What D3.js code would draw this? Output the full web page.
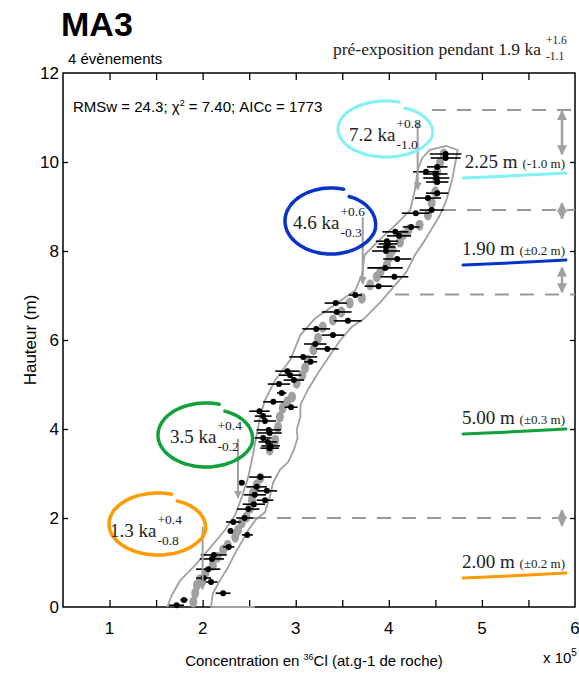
<!DOCTYPE html>
<html>
<head>
<meta charset="utf-8">
<script src="https://cdn.jsdelivr.net/npm/d3@7"></script>
<style>
  body { margin: 0; background: #fff; }
  svg { display: block; }
</style>
</head>
<body>
<div id="chart"></div>
<script>
// observed samples: concentration (x 10^5), height (m), half error bar
const obsX = [1.72, 1.80, 2.22, 2.09, 2.01, 2.06, 2.10, 2.12, 2.28, 2.48, 2.30, 2.33, 2.45, 2.49, 2.55, 2.67, 2.56, 2.69, 2.58, 2.42, 2.62,
  2.72, 2.73, 2.70, 2.65, 2.72, 2.71, 2.67, 2.65, 2.61, 2.95, 2.76, 2.85, 2.82, 2.98, 2.94, 2.91, 3.16, 3.08, 3.34, 3.21,
  3.40, 3.22, 3.56, 3.44, 3.43, 3.64, 3.89, 4.06, 3.96, 4.09, 3.97, 3.97, 3.99, 3.98, 4.11, 4.07,
  4.24, 4.29, 4.46, 4.42, 4.52, 4.52, 4.51, 4.50, 4.40, 4.52, 4.61, 4.61];
const obsY = [0.04, 0.16, 0.31, 0.56, 0.65, 0.85, 1.08, 1.17, 1.35, 1.62, 1.71, 1.91, 2.00, 2.20, 2.31, 2.40, 2.52, 2.61, 2.70, 2.79, 2.92,
  3.57, 3.62, 3.71, 3.80, 3.91, 3.98, 4.18, 4.29, 4.40, 4.49, 4.61, 4.81, 5.01, 5.10, 5.21, 5.30, 5.51, 5.62, 5.80, 5.91,
  6.11, 6.25, 6.43, 6.63, 6.83, 7.01, 7.21, 7.42, 7.62, 7.82, 8.00, 8.09, 8.16, 8.22, 8.34, 8.43,
  8.54, 8.85, 8.92, 9.19, 9.30, 9.55, 9.64, 9.73, 9.78, 9.89, 10.09, 10.18];
const obsErr = [0.08, 0.04, 0.08, 0.07, 0.08, 0.13, 0.13, 0.14, 0.06, 0.06, 0.03, 0.08, 0.09, 0.12, 0.12, 0.09, 0.12, 0.11, 0.11, 0.03, 0.12,
  0.10, 0.10, 0.10, 0.09, 0.13, 0.13, 0.12, 0.09, 0.11, 0.07, 0.11, 0.05, 0.12, 0.11, 0.12, 0.13, 0.07, 0.15, 0.12, 0.12,
  0.12, 0.15, 0.15, 0.16, 0.12, 0.07, 0.15, 0.15, 0.19, 0.15, 0.15, 0.10, 0.10, 0.12, 0.13, 0.14,
  0.09, 0.15, 0.13, 0.14, 0.12, 0.12, 0.14, 0.13, 0.14, 0.11, 0.16, 0.17];

// modelled concentrations (grey dots)
const modX = [1.90, 1.92, 1.94, 1.97, 2.03, 2.11, 2.16, 2.22, 2.27, 2.35, 2.38, 2.42, 2.47, 2.51, 2.53, 2.54, 2.58, 2.62,
  2.72, 2.78, 2.81, 2.83, 2.86, 2.91, 2.96, 3.01, 3.07, 3.10, 3.13, 3.19,
  3.24, 3.29, 3.40, 3.49, 3.58, 3.71, 3.80, 3.87, 3.91, 3.98, 4.01, 4.04, 4.12, 4.15, 4.21,
  4.33, 4.42, 4.46, 4.50, 4.51, 4.52, 4.55, 4.59];
const modY = [0.11, 0.31, 0.49, 0.61, 0.76, 0.94, 1.12, 1.28, 1.39, 1.57, 1.73, 1.89, 2.02, 2.22, 2.40, 2.56, 2.74, 2.90,
  3.53, 3.75, 4.04, 4.27, 4.47, 4.61, 4.72, 5.03, 5.21, 5.37, 5.55, 5.78,
  6.04, 6.29, 6.45, 6.63, 6.83, 6.94, 7.24, 7.42, 7.53, 7.69, 7.87, 8.02, 8.20, 8.36, 8.47,
  8.58, 8.81, 9.08, 9.33, 9.60, 9.78, 9.98, 10.18];

// envelope (left side up, then right side down)
const envX = [1.62, 1.67, 1.76, 1.92, 2.08, 2.24, 2.35, 2.42, 2.49, 2.54, 2.58, 2.62, 2.67, 2.78, 2.94, 3.05, 3.21, 3.42, 3.64, 3.71, 3.74, 3.90, 4.07, 4.23, 4.28, 4.31, 4.36, 4.44,
  4.62, 4.74, 4.72, 4.68, 4.62, 4.55, 4.39, 4.28, 4.19, 4.07, 3.91, 3.74, 3.60, 3.48, 3.35, 3.24, 3.13, 3.05, 3.05, 3.01, 3.02, 2.98, 2.92, 2.83, 2.76, 2.72, 2.67, 2.57, 2.49, 2.42, 2.35, 2.27, 2.19, 2.11, 2.09, 2.56];
const envY = [0.00, 0.27, 0.60, 0.94, 1.33, 1.73, 2.07, 2.47, 2.92, 3.42, 3.87, 4.31, 4.65, 5.10, 5.55, 6.11, 6.49, 6.79, 7.12, 7.46, 7.91, 8.25, 8.58, 8.92, 9.37, 9.82, 10.09, 10.27,
  10.36, 10.27, 10.04, 9.60, 9.15, 8.81, 8.25, 7.91, 7.53, 7.24, 6.85, 6.49, 6.29, 6.00, 5.60, 5.26, 4.88, 4.54, 4.27, 3.98, 3.80, 3.53, 3.26, 3.08, 2.81, 2.47, 2.13, 1.96, 1.73, 1.46, 1.21, 0.88, 0.61, 0.31, 0.00, 0.00];

// events (bottom to top)
const eventSlip = ["2.00 m", "5.00 m", "1.90 m", "2.25 m"];
const eventUnc = ["(±0.2 m)", "(±0.3 m)", "(±0.2 m)", "(-1.0 m)"];
const eventTop = [2.0, 7.02, 8.92, 11.17];
const uncTop = [2.2, 7.65, 9.1, 11.17];
const uncBot = [1.8, 7.05, 8.7, 10.15];
const eventAge = ["1.3 ka", "3.5 ka", "4.6 ka", "7.2 ka"];
const agePlus = ["+0.4", "+0.4", "+0.6", "+0.8"];
const ageMinus = ["-0.8", "-0.2", "-0.3", "-1.0"];
const arrowX = [2.0, 2.38, 3.72, 4.31];
const arrowFrom = [1.8, 3.78, 8.76, 10.9];
const arrowTo = [0.4, 2.45, 7.26, 9.38];
const eventColor = ["#ff9a00", "#11a03a", "#0733c8", "#80f2f6"];

const xTicks = [1, 2, 3, 4, 5, 6];
const yTicks = [0, 2, 4, 6, 8, 10, 12];

const W = 579, H = 680;
const x = d3.scaleLinear().domain([0.5, 6]).range([63, 575]);
const y = d3.scaleLinear().domain([0, 12]).range([607, 73]);

const svg = d3.select("#chart").append("svg").attr("width", W).attr("height", H);
const narrow = "'Liberation Sans Narrow', 'Liberation Sans', Arial, sans-serif";
const serif = "'Liberation Serif', 'Times New Roman', serif";
const grey = "#a0a0a0";

svg.append("defs").append("marker")
  .attr("id", "head").attr("viewBox", "0 0 10 10")
  .attr("refX", 9).attr("refY", 5)
  .attr("markerWidth", 4).attr("markerHeight", 4)
  .attr("orient", "auto-start-reverse")
  .append("path").attr("d", "M0,0 L10,5 L0,10 z").attr("fill", grey);

// titles
svg.append("text").attr("x", 61).attr("y", 36).attr("font-family", "'Liberation Sans', Arial, sans-serif")
  .attr("font-weight", "bold").attr("font-size", 34).text("MA3");
svg.append("text").attr("x", 68).attr("y", 64).attr("font-family", "'Liberation Sans', Arial, sans-serif")
  .attr("font-size", 15).text("4 évènements");
svg.append("text").attr("x", 541).attr("y", 55).attr("text-anchor", "end")
  .attr("font-family", serif).attr("font-size", 17.5).attr("fill", "#222").text("pré-exposition pendant 1.9 ka");
svg.append("text").attr("x", 546).attr("y", 44).attr("font-family", serif).attr("font-size", 11.5).attr("fill", "#222").text("+1.6");
svg.append("text").attr("x", 546).attr("y", 60).attr("font-family", serif).attr("font-size", 11.5).attr("fill", "#222").text("-1.1");

// frame
svg.append("rect").attr("x", x(0.5)).attr("y", y(12)).attr("width", x(6) - x(0.5)).attr("height", y(0) - y(12))
  .attr("fill", "none").attr("stroke", "#000").attr("stroke-width", 1.5);

// axes with inner ticks
const xMinor = d3.range(1, 6, 0.5);
svg.append("g").attr("transform", `translate(0,${y(0)})`)
  .call(d3.axisTop(x).tickValues(xMinor).tickSize(7).tickFormat(""))
  .call(g => g.select(".domain").remove());
svg.append("g").attr("transform", `translate(0,${y(12)})`)
  .call(d3.axisBottom(x).tickValues(xMinor).tickSize(7).tickFormat(""))
  .call(g => g.select(".domain").remove());
svg.append("g").attr("transform", `translate(${x(6)},0)`)
  .call(d3.axisLeft(y).tickValues(yTicks.slice(1, -1)).tickSize(5).tickFormat(""))
  .call(g => g.select(".domain").remove());
svg.append("g").attr("transform", `translate(${x(0.5)},0)`)
  .call(d3.axisRight(y).tickValues(yTicks.slice(1, -1)).tickSize(5).tickFormat(""))
  .call(g => g.select(".domain").remove());
svg.selectAll(".tick line").attr("stroke", "#000").attr("stroke-width", 1.3);

svg.append("g").selectAll("text").data(xTicks).join("text")
  .attr("x", d => x(d)).attr("y", y(0) + 27).attr("text-anchor", "middle")
  .attr("font-family", narrow).attr("font-size", 17).text(d => d);
svg.append("g").selectAll("text").data(yTicks).join("text")
  .attr("x", x(0.5) - 4).attr("y", d => y(d) + 6).attr("text-anchor", "end")
  .attr("font-family", narrow).attr("font-size", 17).text(d => d);

const xl = svg.append("text").attr("x", 314).attr("y", 666).attr("text-anchor", "middle")
  .attr("font-family", "'Liberation Sans', Arial, sans-serif").attr("font-size", 15);
xl.append("tspan").text("Concentration en ");
xl.append("tspan").attr("font-size", 9).attr("dy", -6).text("36");
xl.append("tspan").attr("dy", 6).text("Cl (at.g-1 de roche)");
const x5 = svg.append("text").attr("x", 543).attr("y", 663).attr("font-family", narrow).attr("font-size", 15);
x5.append("tspan").text("x 10");
x5.append("tspan").attr("font-size", 10).attr("dy", -7).text("5");
svg.append("text").attr("transform", `translate(36,340) rotate(-90)`).attr("text-anchor", "middle")
  .attr("font-family", "'Liberation Sans', Arial, sans-serif").attr("font-size", 17).text("Hauteur (m)");

const st = svg.append("text").attr("x", 73).attr("y", 112).attr("font-family", narrow).attr("font-size", 15);
st.append("tspan").text("RMSw = 24.3; χ");
st.append("tspan").attr("font-size", 9).attr("dy", -6).text("2");
st.append("tspan").attr("dy", 6).text(" = 7.40; AICc = 1773");

// envelope
const line = d3.line().x(d => x(d[0])).y(d => y(d[1]));
svg.append("path").datum(envX.map((v, i) => [v, envY[i]]))
  .attr("d", line).attr("fill", "none").attr("stroke", grey).attr("stroke-width", 1.8).attr("stroke-linejoin", "round");

// event dashed limits
svg.append("g").selectAll("line").data(eventTop).join("line")
  .attr("x1", (d, i) => [252, 395, 442, 432][i]).attr("x2", x(6))
  .attr("y1", d => y(d)).attr("y2", d => y(d))
  .attr("stroke", "#999").attr("stroke-width", 2).attr("stroke-dasharray", "14,11");

// modelled dots
svg.append("g").selectAll("ellipse").data(modX).join("ellipse")
  .attr("cx", d => x(d)).attr("cy", (d, i) => y(modY[i]))
  .attr("rx", 4).attr("ry", 5.5).attr("fill", grey);

// observed with error bars
const obs = svg.append("g");
obs.selectAll("line").data(obsX).join("line")
  .attr("x1", (d, i) => x(d - obsErr[i])).attr("x2", (d, i) => x(d + obsErr[i]))
  .attr("y1", (d, i) => y(obsY[i])).attr("y2", (d, i) => y(obsY[i]))
  .attr("stroke", "#000").attr("stroke-width", 1.6);
obs.selectAll("circle").data(obsX).join("circle")
  .attr("cx", d => x(d)).attr("cy", (d, i) => y(obsY[i])).attr("r", 3).attr("fill", "#000");

// uncertainty arrows on the right
svg.append("g").selectAll("line").data(uncTop).join("line")
  .attr("x1", 562).attr("x2", 562)
  .attr("y1", d => y(d) + 1).attr("y2", (d, i) => y(uncBot[i]) - 1)
  .attr("stroke", grey).attr("stroke-width", 2.5)
  .attr("marker-start", "url(#head)").attr("marker-end", "url(#head)");

// age arrows
svg.append("g").selectAll("line").data(arrowX).join("line")
  .attr("x1", d => x(d)).attr("x2", d => x(d))
  .attr("y1", (d, i) => y(arrowFrom[i])).attr("y2", (d, i) => y(arrowTo[i]))
  .attr("stroke", grey).attr("stroke-width", 2)
  .attr("marker-end", "url(#head)");

// hand drawn ellipses around ages
const loops = [
  { cx: 158, cy: 524, rx: 49, ry: 31 },
  { cx: 206, cy: 435, rx: 48, ry: 32 },
  { cx: 331, cy: 221, rx: 46, ry: 33 },
  { cx: 386, cy: 129, rx: 48, ry: 28 }
];
const loopLine = d3.line().curve(d3.curveCatmullRom);
loops.forEach((o, i) => {
  const pts = [];
  const t0 = -62, t1 = 290;
  for (let t = t0; t <= t1; t += 6) {
    const k = t < t0 + 80 ? 0.84 + 0.16 * (t - t0) / 80 : 1;
    const a = t * Math.PI / 180;
    pts.push([o.cx + o.rx * k * Math.cos(a), o.cy + o.ry * k * Math.sin(a)]);
  }
  svg.append("path").attr("d", loopLine(pts)).attr("fill", "none")
    .attr("stroke", eventColor[i]).attr("stroke-width", i === 3 ? 3 : 3.5).attr("stroke-linecap", "round");
});

// age labels
const agePos = [[110, 537], [170, 443], [293, 229], [349, 141]];
agePos.forEach((p, i) => {
  const t = svg.append("text").attr("x", p[0]).attr("y", p[1]).attr("font-family", serif)
    .attr("font-size", 19).attr("fill", "#222").text(eventAge[i]);
  const w = t.node().getComputedTextLength();
  svg.append("text").attr("x", p[0] + w + 1).attr("y", p[1] - 13).attr("font-family", serif)
    .attr("font-size", 13.5).attr("fill", "#222").text(agePlus[i]);
  svg.append("text").attr("x", p[0] + w + 1).attr("y", p[1] + 8).attr("font-family", serif)
    .attr("font-size", 13.5).attr("fill", "#222").text(ageMinus[i]);
});

// slip labels with underline strokes
const slipBase = [568, 424, 255, 168];
slipBase.forEach((b, i) => {
  const t = svg.append("text").attr("x", 565).attr("y", b).attr("text-anchor", "end")
    .attr("font-family", serif).attr("fill", "#222");
  t.append("tspan").attr("font-size", 19).text(eventSlip[i] + " ");
  t.append("tspan").attr("font-size", 13).text(eventUnc[i]);
  svg.append("path")
    .attr("d", `M463,${b + 10} Q515,${b + 8} 566,${b + 5}`)
    .attr("fill", "none").attr("stroke", eventColor[i]).attr("stroke-width", 3).attr("stroke-linecap", "round");
});
</script>
</body>
</html>
